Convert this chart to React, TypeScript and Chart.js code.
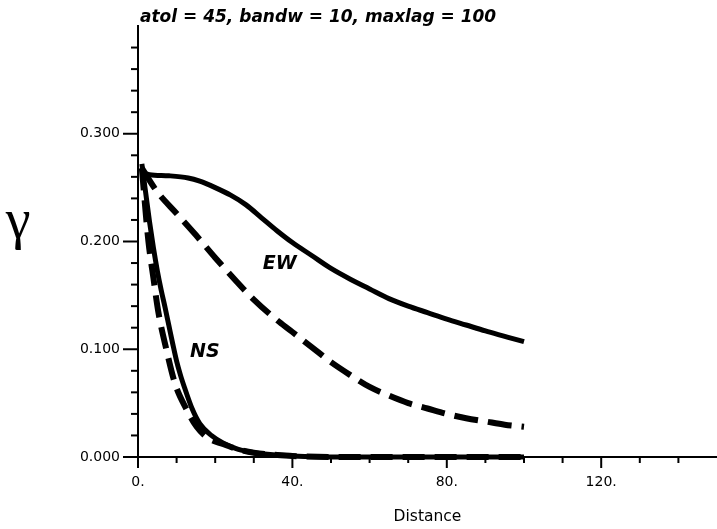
import React, { useEffect, useRef } from "react";
import { Chart, registerables } from "chart.js";

Chart.register(...registerables);

const titleText = "atol = 45, bandw = 10, maxlag = 100";
const xAxisTitle = "Distance";
const yAxisSymbol = "γ";

const ewSolidX = [1, 3, 8, 13, 16, 20, 24, 28, 32, 36, 40, 45, 50, 55, 60, 65, 70, 75, 80, 85, 90, 95, 100];
const ewSolidY = [0.264, 0.262, 0.261, 0.259, 0.256, 0.25, 0.243, 0.234, 0.222, 0.21, 0.199, 0.187, 0.175, 0.165, 0.156, 0.147, 0.14, 0.134, 0.128, 0.1225, 0.117, 0.112, 0.107];

const ewDashX = [1, 5, 10, 15, 20, 25, 30, 35, 40, 45, 50, 55, 60, 65, 70, 75, 80, 85, 90, 95, 100];
const ewDashY = [0.268, 0.246, 0.226, 0.206, 0.185, 0.165, 0.146, 0.13, 0.116, 0.102, 0.088, 0.076, 0.065, 0.057, 0.05, 0.045, 0.04, 0.036, 0.033, 0.03, 0.028];

const nsSolidX = [1, 2, 3, 4, 5, 6, 7, 8, 9, 10, 11, 12, 14, 16, 19, 22, 26, 30, 35, 40, 50, 60, 70, 80, 90, 100];
const nsSolidY = [0.272, 0.245, 0.218, 0.194, 0.173, 0.155, 0.139, 0.122, 0.105, 0.089, 0.076, 0.065, 0.045, 0.031, 0.02, 0.013, 0.007, 0.004, 0.002, 0.001, 0, 0, 0, 0, 0, 0];

const nsDashX = [1, 2.7, 4, 5.2, 7.4, 9.6, 12.6, 15.2, 18, 22, 26, 30, 40, 50, 60, 70, 80, 90, 100];
const nsDashY = [0.268, 0.2, 0.166, 0.136, 0.099, 0.068, 0.044, 0.028, 0.018, 0.012, 0.007, 0.004, 0.001, 0, 0, 0, 0, 0, 0];

const curveLabels = ["EW", "NS"];
const curveLabelX = [36.7, 17.3];
const curveLabelY = [0.179, 0.097];

const xMin = 0;
const xMax = 150;
const xStep = 10;
const xMajorEvery = 40;
const yMin = 0;
const yMax = 0.4;
const yStep = 0.02;
const yMajorEvery = 0.1;

const toPoints = (xs: number[], ys: number[]) => xs.map((x, i) => ({ x, y: ys[i] }));

const isMultiple = (v: number, m: number) => Math.abs(v / m - Math.round(v / m)) < 1e-6;

const decorPlugin = {
  id: "decor",
  afterDraw(chart: any) {
    const ctx = chart.ctx;
    const xs = chart.scales.x;
    const ys = chart.scales.y;
    const area = chart.chartArea;
    ctx.save();
    ctx.strokeStyle = "#000";
    ctx.fillStyle = "#000";
    ctx.lineWidth = 2;
    ys.ticks.forEach((t: any) => {
      const v = t.value;
      if (v > yMax - 1e-6) return;
      const py = ys.getPixelForValue(v);
      const len = isMultiple(v, yMajorEvery) ? 15 : 7;
      ctx.beginPath();
      ctx.moveTo(area.left - len, py);
      ctx.lineTo(area.left, py);
      ctx.stroke();
    });
    xs.ticks.forEach((t: any) => {
      const v = t.value;
      if (v > xMax - 1e-6) return;
      const px = xs.getPixelForValue(v);
      const len = isMultiple(v, xMajorEvery) ? 11 : 6;
      ctx.beginPath();
      ctx.moveTo(px, area.bottom);
      ctx.lineTo(px, area.bottom + len);
      ctx.stroke();
    });
    ctx.font = 'italic bold 17px "DejaVu Sans"';
    ctx.textAlign = "left";
    ctx.textBaseline = "alphabetic";
    ctx.fillText(titleText, area.left + 2, 22);
    ctx.font = '56px "Liberation Serif"';
    ctx.textAlign = "center";
    ctx.fillText(yAxisSymbol, 18, 238);
    ctx.font = '15.5px "DejaVu Sans"';
    ctx.textAlign = "center";
    ctx.textBaseline = "middle";
    ctx.fillText(xAxisTitle, (area.left + area.right) / 2, 517);
    ctx.font = 'italic bold 19px "DejaVu Sans"';
    curveLabels.forEach((txt, i) => {
      ctx.fillText(txt, xs.getPixelForValue(curveLabelX[i]), ys.getPixelForValue(curveLabelY[i]));
    });
    ctx.restore();
  },
};

export default function App() {
  const ref = useRef<HTMLCanvasElement | null>(null);
  useEffect(() => {
    if (!ref.current) return;
    const common = {
      borderColor: "#000",
      backgroundColor: "#000",
      pointRadius: 0,
      fill: false,
      clip: false as any,
      cubicInterpolationMode: "monotone" as const,
      borderJoinStyle: "round" as const,
    };
    const chart = new Chart(ref.current, {
      type: "line",
      data: {
        datasets: [
          { ...common, label: "EW", data: toPoints(ewSolidX, ewSolidY), borderWidth: 5 },
          { ...common, label: "EW model", data: toPoints(ewDashX, ewDashY), borderWidth: 6, borderDash: [24, 10] },
          { ...common, label: "NS", data: toPoints(nsSolidX, nsSolidY), borderWidth: 5 },
          { ...common, label: "NS model", data: toPoints(nsDashX, nsDashY), borderWidth: 6, borderDash: [22, 10] },
        ],
      },
      options: {
        responsive: false,
        animation: false,
        events: [],
        layout: { padding: { left: 0, right: 0, top: 26, bottom: 0 } },
        plugins: { legend: { display: false }, title: { display: false }, tooltip: { enabled: false } },
        scales: {
          x: {
            type: "linear",
            min: xMin,
            max: xMax,
            grid: { display: false, drawTicks: false },
            border: { display: true, color: "#000", width: 2 },
            ticks: {
              stepSize: xStep,
              autoSkip: false,
              maxRotation: 0,
              padding: 17,
              color: "#000",
              font: { family: "DejaVu Sans", size: 14 },
              callback: (v: any) => (isMultiple(Number(v), xMajorEvery) && Number(v) < xMax ? `${v}.` : ""),
            },
            afterFit: (s: any) => {
              s.height = 72;
              s.paddingLeft = 0;
              s.paddingRight = 0;
            },
          },
          y: {
            type: "linear",
            min: yMin,
            max: yMax,
            grid: { display: false, drawTicks: false },
            border: { display: true, color: "#000", width: 2 },
            ticks: {
              stepSize: yStep,
              autoSkip: false,
              padding: 18,
              color: "#000",
              font: { family: "DejaVu Sans", size: 14 },
              callback: (v: any) => (isMultiple(Number(v), yMajorEvery) && Number(v) < yMax - 1e-6 ? Number(v).toFixed(3) : ""),
            },
            afterFit: (s: any) => {
              s.width = 138;
              s.paddingTop = 0;
              s.paddingBottom = 0;
            },
          },
        },
      },
      plugins: [decorPlugin],
    });
    return () => chart.destroy();
  }, []);
  return (
    <div style={{ position: "fixed", left: 0, top: 0, width: 717, height: 529, background: "#fff" }}>
      <canvas ref={ref} width={717} height={529} style={{ display: "block" }} />
    </div>
  );
}
